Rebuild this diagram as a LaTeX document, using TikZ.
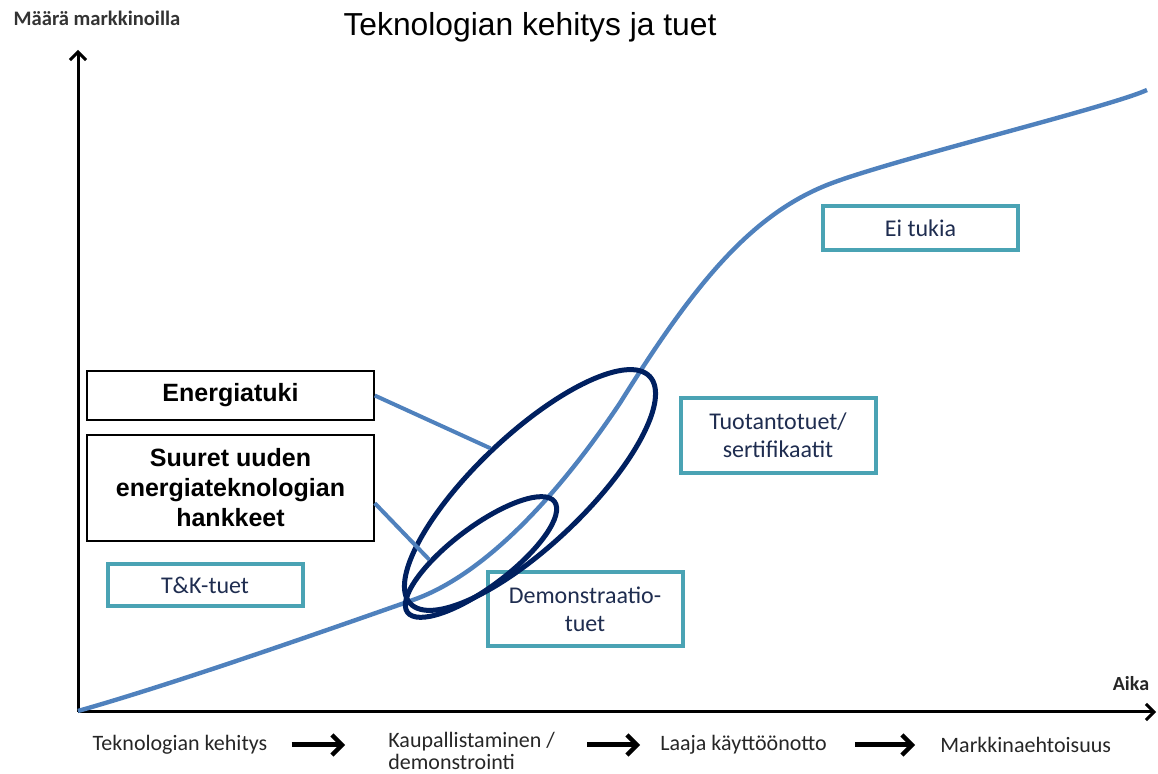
\documentclass[tikz,border=0pt]{standalone}
\usepackage{fontspec}
\setmainfont{Carlito}
\newfontfamily\arialfont{Liberation Sans}
\usepackage{tikz}
\usetikzlibrary{arrows.meta,shapes.geometric,positioning}

\definecolor{curveblue}{RGB}{79,129,189}
\definecolor{ringnavy}{RGB}{0,32,96}
\definecolor{tealedge}{RGB}{74,163,180}
\definecolor{boxtext}{RGB}{31,45,80}

\begin{document}
\begin{tikzpicture}[x=0.5pt, y=-0.5pt,
		axis/.style={line width=1.5pt, -{Straight Barb[length=4pt,width=8pt,line width=1.5pt]}},
		phasearrow/.style={line width=2.5pt, -{Straight Barb[length=5pt,width=10pt,line width=2.2pt]}},
		support/.style={draw=tealedge, line width=2pt, fill=white, text=boxtext, align=center,
			font=\fontsize{12}{14}\selectfont, inner sep=0pt, minimum width=97.5pt},
		project/.style={draw=black, line width=0.75pt, fill=white, align=center,
			font=\arialfont\bfseries\fontsize{12.5}{15}\selectfont, inner sep=0pt, minimum width=143.5pt},
		ring/.style={draw=ringnavy, line width=2.5pt, ellipse, inner sep=0pt},
		leader/.style={draw=curveblue, line width=2pt},
		phase/.style={font=\fontsize{11}{10.8}\selectfont, text=black!85, inner sep=0pt, align=left}]
				\useasboundingbox (0, 0) rectangle (1158, 774);

				% axes
				\coordinate (o) at (78, 712);
				\coordinate (ytop) at (78, 50);
				\coordinate (xend) at (1156, 712);
				\draw [axis] (o) to (ytop);
				\draw [axis] (o) to (xend);
				\node (ylabel) at (97, 18) {\bfseries\fontsize{10.3}{12}\selectfont\color{black!80}Määrä markkinoilla};
				\node (xlabel) at (1131, 684) {\bfseries\fontsize{10}{12}\selectfont\color{black!85}Aika};
				\node (title) at (530, 27) {\arialfont\fontsize{15.9}{18}\selectfont Teknologian kehitys ja tuet};

				% S-curve
				\draw [curveblue, line width=2.2pt] (78, 711)
					.. controls (180, 682) and (330, 629) .. (413, 600)
					.. controls (493, 572) and (570, 478) .. (620, 403)
					.. controls (690, 291) and (747, 217) .. (827, 185)
					.. controls (887, 161) and (1107, 108) .. (1147, 90);

				% support boxes
				\node [support, minimum height=21pt] (tk) at (205, 585) {T\&K-tuet};
				\node [support, minimum height=37pt] (demo) at (585, 609) {Demonstraatio-\\tuet};
				\node [support, minimum height=37.5pt] (tuotanto) at (778, 435.5) {Tuotantotuet/\\sertifikaatit};
				\node [support, minimum height=22pt] (eitukia) at (920.5, 228) {Ei tukia};

				% rings
				\node [ring, minimum width=165pt, minimum height=55pt, rotate=43.5] (big) at (530, 490) {};
				\node [ring, minimum width=92pt, minimum height=30pt, rotate=37] (small) at (481, 557) {};

				% callouts
				\node [project, minimum height=24.5pt] (energia) at (230.5, 395.5) {Energiatuki};
				\node [project, minimum height=53pt] (suuret) at (230.5, 488) {Suuret uuden\\energiateknologian\\hankkeet};
				\draw [leader] (energia.east) to (big.north);
				\draw [leader] (suuret.-6) to (small.146);

				% phases
				\node [phase] (tek) at (180, 745) {Teknologian kehitys};
				\node [phase, anchor=west] (kau) at (388, 751) {Kaupallistaminen /\\demonstrointi};
				\node [phase, anchor=west] (laaja) at (660, 745) {Laaja käyttöönotto};
				\node [phase, anchor=west] (markkina) at (940, 745) {Markkinaehtoisuus};
				\draw [phasearrow, shorten <=12pt, shorten >=21.5pt] (tek.east) to (tek.east -| kau.west);
				\draw [phasearrow, shorten <=16pt, shorten >=10pt] (kau.east |- laaja.west) to (laaja.west);
				\draw [phasearrow, shorten <=14pt, shorten >=12.5pt] (laaja.east) to (markkina.west);
		\end{tikzpicture}
\end{document}
